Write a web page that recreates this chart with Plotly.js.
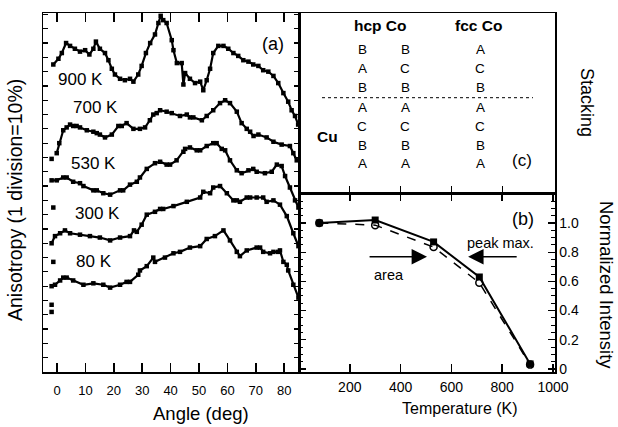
<!DOCTYPE html>
<html>
<head>
<meta charset="utf-8">
<script src="https://cdn.plot.ly/plotly-3.0.1.min.js"></script>
<style>html,body{margin:0;padding:0;background:#fff}#plot{width:618px;height:427px}</style>
</head>
<body>
<div id="plot"></div>
<script>
// ---- Panel (a): anisotropy vs angle (y in divisions, 1 division = 10%) ----
const angle900 = [-1.3,0.5,1.7,3.2,4.6,6.3,8.1,9.9,11.4,12.8,13.7,15.1,16.9,18.1,19.3,20.4,22.2,23.9,25.7,26.9,28.6,29.8,31.3,32.8,34.5,35.7,36.5,37.4,38.6,40.4,41.0,42.2,43.9,44.5,45.1,46.8,48.6,50.4,51.5,52.7,53.9,55.0,56.8,58.6,60.3,62.1,63.8,65.6,67.4,69.1,70.9,72.6,74.4,76.2,77.9,79.7,81.4,82.6,83.8,84.9];
const aniso900 = [21.5,21.9,22.3,23.0,22.8,22.6,22.4,22.5,22.2,22.6,23.1,22.6,22.3,21.8,21.2,20.8,20.5,20.4,20.5,20.3,20.8,21.4,22.3,23.0,23.6,24.4,24.9,24.6,24.4,23.2,22.5,21.6,21.6,20.1,20.9,20.5,20.2,20.3,19.7,20.4,21.2,22.3,22.8,22.8,22.6,22.3,22.1,21.8,21.7,21.5,21.4,21.1,21.0,20.7,20.2,19.5,18.9,18.3,17.9,17.3];
const angle700 = [-0.1,0.8,2.2,3.4,4.6,5.7,6.9,8.1,10.5,12.8,14.0,15.1,16.9,19.3,21.6,22.8,24.5,26.9,29.2,31.0,32.7,33.9,35.1,36.3,38.6,40.4,43.3,45.7,46.8,48.0,51.0,52.7,55.0,57.4,59.2,60.9,63.3,65.0,66.8,68.0,69.2,70.9,73.8,76.2,79.1,82.0,83.2,84.4];
const aniso700 = [15.3,16.0,16.9,17.1,17.3,17.2,17.2,17.1,16.9,16.8,16.7,16.6,16.4,16.6,17.2,17.2,17.4,17.0,17.0,17.1,17.6,18.0,18.1,18.3,18.2,18.1,17.9,18.0,17.8,17.8,17.6,17.9,18.3,18.8,19.0,18.8,18.2,17.4,17.0,16.8,16.5,16.6,16.4,16.1,15.9,15.8,15.3,14.8];
const angle530 = [-1.9,-0.1,2.2,3.4,5.7,8.1,9.3,12.8,14.0,16.3,18.7,22.2,23.3,25.7,28.1,29.2,31.6,34.5,36.3,38.6,39.8,42.1,44.5,45.1,46.8,49.2,50.4,52.7,55.0,56.2,58.0,59.2,60.9,63.3,65.0,67.4,69.1,70.3,73.2,75.6,77.4,79.1,80.3,82.0,83.8,85.0];
const aniso530 = [13.4,13.4,13.6,13.6,13.3,13.2,13.0,12.7,12.7,12.5,12.4,12.7,12.7,13.1,13.3,13.6,14.2,14.6,14.7,14.5,14.5,14.8,15.4,15.6,15.7,15.5,15.5,15.8,16.0,16.0,15.6,15.5,14.8,14.1,13.9,14.1,14.2,14.0,13.9,14.0,14.5,14.4,13.7,12.9,12.0,11.5];
const angle300 = [-1.9,-0.7,1.1,2.8,4.6,8.1,11.6,15.1,18.7,22.2,25.7,27.1,28.1,29.8,31.6,34.5,36.3,37.4,41.0,45.7,50.4,51.5,53.9,55.0,57.4,59.8,62.1,63.3,64.4,66.8,68.0,70.3,72.6,73.8,76.2,78.5,80.9,83.2,85.0];
const aniso300 = [9.0,9.5,9.7,9.9,9.7,9.6,9.5,9.4,9.2,9.4,9.5,9.9,9.8,10.3,11.0,11.2,11.4,11.4,11.6,11.9,12.2,12.6,12.5,12.9,13.0,12.5,12.0,12.0,11.9,12.2,12.2,12.2,12.2,11.9,12.0,11.7,10.9,9.7,8.8];
const angle80 = [-1.9,-0.7,1.1,2.2,3.4,5.7,9.3,12.8,16.3,18.7,22.2,24.5,25.7,28.6,29.2,31.6,33.9,34.5,38.0,41.0,43.3,46.8,50.4,52.7,55.6,58.6,60.9,63.3,64.4,66.8,70.3,71.5,72.6,75.0,76.2,77.9,78.5,79.7,80.9,81.4,83.2,85.0];
const aniso80 = [6.0,6.1,6.4,6.6,6.6,6.4,6.1,6.2,6.1,5.9,6.1,6.3,6.3,6.8,7.1,7.4,8.0,7.7,8.0,8.3,8.4,8.7,8.8,9.3,9.5,9.9,9.2,8.4,8.1,8.5,8.7,8.7,8.4,8.3,8.4,8.4,8.5,7.7,7.5,7.1,6.1,5.2];
const strayAngle = [-1.9,-1.3,-1.3,-1.9,-1.9];
const strayAniso = [14.9,11.5,7.7,4.7,4.2];
const curveLabels = ["900 K","700 K","530 K","300 K","80 K"];
const curveLabelAngle = [8.1,13.6,13.0,14.3,13.0];
const curveLabelAniso = [20.45,18.5,14.6,11.1,7.76];
const angleTicks = [0,10,20,30,40,50,60,70,80];

// ---- Panel (b): normalized intensity vs temperature ----
const temps = [80,300,530,710,910];
const peakMax = [1.0,1.02,0.87,0.63,0.035];
const areaInt = [1.0,0.985,0.835,0.59,0.03];
const tempTicks = [200,400,600,800,1000];
const intTicks = [0,0.2,0.4,0.6,0.8,1.0];
const intTickText = ["0","0.2","0.4","0.6","0.8","1.0"];

// ---- Panel (c): stacking sequences ----
const hcpCol1 = ["B","A","B","A","C","B","A"];
const hcpCol2 = ["B","C","B","A","C","B","A"];
const fccCol  = ["A","C","B","A","C","B","A"];

const FONT = "Liberation Sans, Arial, Helvetica, sans-serif";
const K = "#000";

const traces = [];
const curvesA = [[angle900,aniso900],[angle700,aniso700],[angle530,aniso530],[angle300,aniso300],[angle80,aniso80]];
curvesA.forEach(c => traces.push({
  x: c[0], y: c[1], xaxis: "x", yaxis: "y", type: "scatter", mode: "lines+markers",
  line: {color: K, width: 2.2}, marker: {symbol: "square", size: 4.5, color: K},
  showlegend: false, hoverinfo: "skip", cliponaxis: true
}));
traces.push({x: strayAngle, y: strayAniso, xaxis: "x", yaxis: "y", type: "scatter", mode: "markers",
  marker: {symbol: "square", size: 4.5, color: K}, showlegend: false, hoverinfo: "skip"});

traces.push({x: temps, y: areaInt, xaxis: "x2", yaxis: "y2", type: "scatter", mode: "lines+markers",
  line: {color: K, width: 1.5, dash: "dash"}, marker: {symbol: "circle-open", size: 7, color: K, line: {width: 1.5}},
  showlegend: false, hoverinfo: "skip", cliponaxis: false});
traces.push({x: temps, y: peakMax, xaxis: "x2", yaxis: "y2", type: "scatter", mode: "lines+markers",
  line: {color: K, width: 2}, marker: {symbol: "square", size: 7, color: K},
  showlegend: false, hoverinfo: "skip", cliponaxis: false});
// empty trace to instantiate panel (c) axes
traces.push({x: [], y: [], xaxis: "x3", yaxis: "y3", type: "scatter", mode: "markers", showlegend: false});

const L = 43, R = 555, T = 13, B = 372;
const W = 618, H = 427;
const splitX = (299 - L) / (R - L);
const splitY = (B - 193) / (B - T);
const px = v => (v - L) / (R - L);
const py = v => (B - v) / (B - T);

function txt(text, x, y, size, extra) {
  return Object.assign({text: text, x: x, y: y, xref: "paper", yref: "paper", showarrow: false,
    xanchor: "center", yanchor: "middle", font: {family: FONT, size: size, color: K}}, extra || {});
}

const ann = [];
curveLabels.forEach((t,i) => ann.push({text: t, x: curveLabelAngle[i], y: curveLabelAniso[i], xref: "x", yref: "y",
  xanchor: "center", yanchor: "middle", showarrow: false, font: {family: FONT, size: 17, color: K}}));
ann.push({text: "(a)", x: 76.2, y: 22.9, xref: "x", yref: "y", xanchor: "center", yanchor: "middle", showarrow: false, font: {family: FONT, size: 18, color: K}});
ann.push({text: "(b)", x: 883, y: 1.03, xref: "x2", yref: "y2", xanchor: "center", yanchor: "middle", showarrow: false, font: {family: FONT, size: 18, color: K}});
ann.push({text: "peak max.", x: 792, y: 0.863, xref: "x2", yref: "y2", xanchor: "center", yanchor: "middle", showarrow: false, font: {family: FONT, size: 14.5, color: K}});
ann.push({text: "area", x: 355, y: 0.644, xref: "x2", yref: "y2", xanchor: "center", yanchor: "middle", showarrow: false, font: {family: FONT, size: 14.5, color: K}});
ann.push({text: "", x: 504, y: 0.769, ax: 272, ay: 0.769, xref: "x2", yref: "y2", axref: "x2", ayref: "y2",
  showarrow: true, arrowhead: 2, arrowsize: 2.2, arrowwidth: 1.4, arrowcolor: K});
ann.push({text: "", x: 666, y: 0.769, ax: 863, ay: 0.769, xref: "x2", yref: "y2", axref: "x2", ayref: "y2",
  showarrow: true, arrowhead: 2, arrowsize: 2.2, arrowwidth: 1.4, arrowcolor: K});

// panel (c) — pixel rows / columns converted to paper coords
const rowsPx = [49.3,68.3,87.3,107.3,126.7,145,163.3];
const colsPx = [362,405,480];
[hcpCol1,hcpCol2,fccCol].forEach((col,ci) => col.forEach((s,ri) =>
  ann.push(txt(s, px(colsPx[ci]), py(rowsPx[ri]), 13.5))));
ann.push(txt("<b>hcp Co</b>", px(380), py(25), 15.5));
ann.push(txt("<b>fcc Co</b>", px(478), py(25), 15.5));
ann.push(txt("<b>Cu</b>", px(327), py(136), 15.5));
ann.push(txt("(c)", px(522), py(160), 17));

// axis titles
ann.push(txt("Angle (deg)", px(201), py(413), 18.5));
ann.push(txt("Temperature (K)", px(460), py(408), 16));
ann.push(txt("Anisotropy (1 division=10%)", px(15), py(200), 19.5, {textangle: -90}));
ann.push(txt("Normalized Intensity", px(607), py(285), 18.5, {textangle: 90}));
ann.push(txt("Stacking", px(587), py(102), 18, {textangle: 90}));

const layout = {
  width: W, height: H,
  margin: {l: L, r: W - R, t: T, b: H - B, autoexpand: false},
  paper_bgcolor: "#fff", plot_bgcolor: "#fff",
  font: {family: FONT, color: K},
  showlegend: false,
  xaxis: {domain: [0, splitX], range: [-4.93, 85.2], anchor: "y", tickvals: angleTicks,
    ticks: "inside", ticklen: 9, tickwidth: 1.5, tickcolor: K, showline: true, linecolor: K, linewidth: 1.5,
    mirror: "ticks", showgrid: false, zeroline: false, tickfont: {family: FONT, size: 13, color: K}, ticklabelstandoff: 6},
  yaxis: {domain: [0, 1], range: [0, 25.1], anchor: "x", dtick: 1, tick0: 0,
    ticks: "inside", ticklen: 5, tickwidth: 1.2, tickcolor: K, showline: true, linecolor: K, linewidth: 1.5,
    mirror: "ticks", showgrid: false, zeroline: false, showticklabels: false},
  xaxis2: {domain: [splitX, 1], range: [0, 1008], anchor: "y2", tickvals: tempTicks,
    ticks: "inside", ticklen: 8, tickwidth: 1.5, tickcolor: K, showline: true, linecolor: K, linewidth: 1.5,
    mirror: "ticks", showgrid: false, zeroline: false, tickfont: {family: FONT, size: 14, color: K}, ticklabelstandoff: 2},
  yaxis2: {domain: [0, splitY], range: [-0.0205, 1.205], anchor: "x2", side: "right",
    tickvals: intTicks, ticktext: intTickText,
    ticks: "inside", ticklen: 7, tickwidth: 1.3, tickcolor: K, showline: true, linecolor: K, linewidth: 1.5,
    mirror: "allticks", showgrid: false, zeroline: false, tickfont: {family: FONT, size: 14, color: K},
    minor: {dtick: 0.05, tick0: 0, ticks: "inside", ticklen: 4, tickwidth: 1, tickcolor: K}},
  xaxis3: {domain: [splitX, 1], range: [0, 1008], anchor: "y3", tickvals: [200,400,600,800],
    ticks: "inside", ticklen: 7, tickwidth: 1.3, tickcolor: K, showline: true, linecolor: K, linewidth: 1.5,
    mirror: true, showgrid: false, zeroline: false, showticklabels: false},
  yaxis3: {domain: [splitY, 1], range: [0, 1], anchor: "x3", showline: true, linecolor: K, linewidth: 1.5,
    mirror: true, ticks: "", showgrid: false, zeroline: false, showticklabels: false},
  shapes: [{type: "line", xref: "paper", yref: "paper", x0: px(322), x1: px(533), y0: py(97.7), y1: py(97.7),
    line: {color: K, width: 1, dash: "dot"}}],
  annotations: ann
};

Plotly.newPlot("plot", traces, layout, {displayModeBar: false, staticPlot: true});
</script>
</body>
</html>
